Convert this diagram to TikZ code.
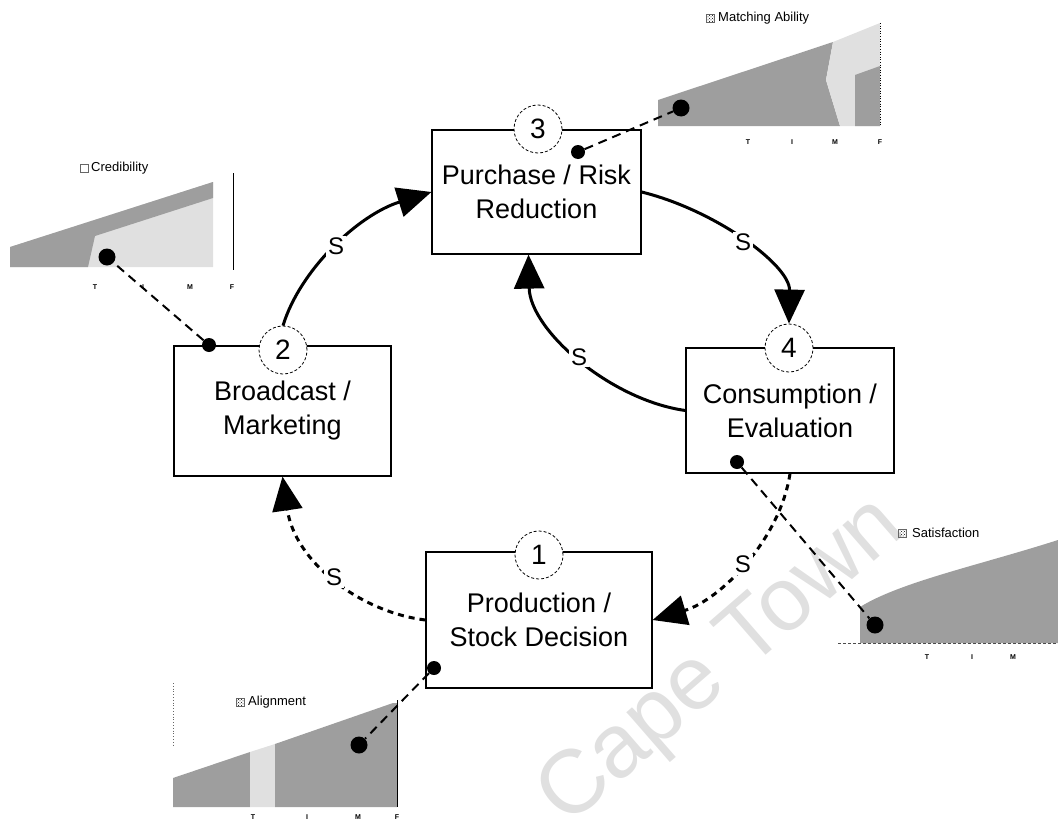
\documentclass[tikz,border=0pt]{standalone}
\usepackage{fontspec}
\setmainfont{Liberation Sans}
\usetikzlibrary{arrows.meta,patterns}
\begin{document}
\begin{tikzpicture}[x=1pt,y=-1pt,
  stage/.style={draw=black, line width=1.2pt, align=center, inner sep=0pt,
    font=\fontsize{27}{34}\selectfont},
  num/.style={circle, draw=black, dash pattern=on 3pt off 2pt, line width=0.8pt,
    fill=white, minimum size=48pt, inner sep=0pt, font=\fontsize{28}{28}\selectfont},
  dot/.style={circle, fill=black, minimum size=14pt, inner sep=0pt},
  cdot/.style={circle, fill=black, minimum size=17pt, inner sep=0pt},
  flow/.style={line width=3pt, -{Triangle[length=34pt,width=30pt]}},
  flowd/.style={flow, dash pattern=on 6pt off 5pt},
  slab/.style={fill=white, inner sep=2pt, font=\fontsize{24}{24}\selectfont},
  link/.style={line width=2pt, dash pattern=on 9pt off 6pt},
  dark/.style={fill=black!38},
  pale/.style={fill=black!12},
  chartlabel/.style={anchor=west, inner sep=0pt, font=\fontsize{13}{13}\selectfont},
  tick/.style={inner sep=0pt, font=\bfseries\fontsize{7}{7}\selectfont},
  legendbox/.style={draw=black!60, line width=0.4pt, pattern=crosshatch dots, pattern color=black}
]
\useasboundingbox (0,0) rectangle (1058,827);

% watermark
\node[anchor=base, rotate=41, text=black!12, inner sep=0pt,
  font=\fontsize{90}{90}\selectfont] (wm) at (737,680) {Cape Town};

% ---- charts ----
% Matching Ability
\fill[dark] (658,126) -- (658,100) -- (833,42) -- (826,80) -- (840,126) -- cycle;
\fill[pale] (833,42) -- (880,23) -- (880,126) -- (840,126) -- (826,80) -- cycle;
\fill[dark] (855,126) -- (855,75) -- (880,66) -- (880,126) -- cycle;
\draw[black, line width=0.6pt, dotted] (880,23) -- (880,126);
\draw[legendbox] (706,14) rectangle (714,22);
\node[chartlabel] (lm) at (718,18) {Matching Ability};
\node[tick] (tm1) at (748,142) {T};
\node[tick] (tm2) at (792,142) {I};
\node[tick] (tm3) at (835,142) {M};
\node[tick] (tm4) at (880,142) {F};
\node[cdot] (m) at (681,108) {};

% Credibility
\fill[pale] (10,267) -- (10,247) -- (213,182) -- (213,267) -- cycle;
\fill[dark] (10,267) -- (10,247) -- (213,182) -- (213,198) -- (95,236) -- (88,267) -- cycle;
\draw[line width=1pt] (233,173) -- (233,270);
\draw[draw=black!60, line width=0.4pt, fill=white] (80,164) rectangle (88,172);
\node[chartlabel] (lc) at (91,168) {Credibility};
\node[tick] (tc1) at (95,287) {T};
\node[tick] (tc2) at (143,287) {I};
\node[tick] (tc3) at (190,287) {M};
\node[tick] (tc4) at (232,287) {F};
\node[cdot] (c) at (107,257) {};

% Alignment
\fill[dark] (173,807) -- (173,778) -- (250,752) -- (250,807) -- cycle;
\fill[pale] (250,807) -- (250,752) -- (275,744) -- (275,807) -- cycle;
\fill[dark] (275,807) -- (275,744) -- (393,703) -- (397,703) -- (397,807) -- cycle;
\draw[line width=1pt] (397,700) -- (397,807);
\draw[black!60, line width=0.8pt, dotted] (173,683) -- (173,745);
\draw[legendbox] (236,698) rectangle (244,706);
\node[chartlabel] (la) at (248,702) {Alignment};
\node[tick] (ta1) at (253,817) {T};
\node[tick] (ta2) at (307,817) {I};
\node[tick] (ta3) at (358,817) {M};
\node[tick] (ta4) at (397,817) {F};
\node[cdot] (a) at (359,745) {};

% Satisfaction
\fill[dark] (860,643) -- (860,607) .. controls (900,582) and (980,565) .. (1058,540) -- (1058,643) -- cycle;
\draw[black!70, line width=0.8pt, dash pattern=on 3pt off 2pt] (838,643) -- (1058,643);
\draw[legendbox] (898,529) rectangle (906,537);
\node[chartlabel] (ls) at (912,533) {Satisfaction};
\node[tick] (ts1) at (927,657) {T};
\node[tick] (ts2) at (972,657) {I};
\node[tick] (ts3) at (1013,657) {M};
\node[cdot] (s) at (875,625) {};

% ---- stages ----
\node[stage, minimum width=209pt, minimum height=124pt, fill=white] (b3) at (536.5,192) {Purchase / Risk\\Reduction};
\node[stage, minimum width=217pt, minimum height=130pt, fill=white] (b2) at (282.5,411) {Broadcast /\\Marketing};
\node[stage, minimum width=208pt, minimum height=125pt, fill=white] (b4) at (790,410.5) {Consumption /\\Evaluation};
\node[stage, minimum width=226pt, minimum height=136pt] (b1) at (539,620) {Production /\\Stock Decision};

\node[num] (c3) at (538,129) {3};
\node[num] (c2) at (283,350) {2};
\node[num] (c4) at (789,348) {4};
\node[num] (c1) at (539,555) {1};

\node[dot] (d3) at (578,152) {};
\node[dot] (d2) at (209,345) {};
\node[dot] (d4) at (737,462) {};
\node[dot] (d1) at (434,668) {};

% ---- links to charts ----
\draw[link] (d3) -- (m);
\draw[link] (d2) -- (c);
\draw[link] (d4) -- (s);
\draw[link] (d1) -- (a);

% ---- flows ----
\draw[flow] (c2.north) .. controls (300,270) and (358,215) .. (b3.west) node[slab, pos=0.5] {S};
\draw[flow] (b3.east) .. controls (715,210) and (790,265) .. (c4.north) node[slab, pos=0.5] {S};
\draw[flow] (b4.west) .. controls (610,400) and (530,330) .. ([xshift=-8pt]b3.south) node[slab, pos=0.5] {S};
\draw[flowd] (b4.south) .. controls (780,540) and (720,600) .. (b1.east) node[slab, pos=0.5] {S};
\draw[flowd] (b1.west) .. controls (360,612) and (295,562) .. (b2.south) node[slab, pos=0.5] {S};
\end{tikzpicture}
\end{document}
